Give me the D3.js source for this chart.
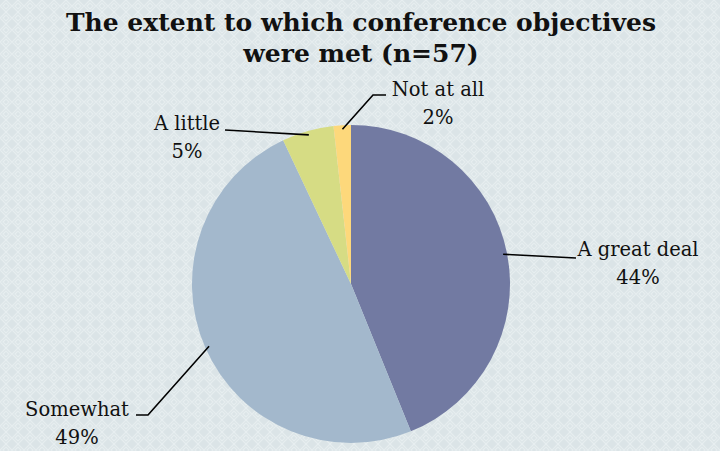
<!DOCTYPE html>
<html>
<head>
<meta charset="utf-8">
<script src="https://cdnjs.cloudflare.com/ajax/libs/d3/7.8.5/d3.min.js"></script>
<style>
  body { margin: 0; }
  svg { display: block; }
  text { font-family: "DejaVu Serif", "Liberation Serif", serif; fill: #111; }
</style>
</head>
<body>
<div id="chart"></div>
<script>
var categories = ["A great deal", "Somewhat", "A little", "Not at all"];
var counts = [25, 28, 3, 1];
var pctLabels = ["44%", "49%", "5%", "2%"];
var colors = ["#727aa2", "#a3b8cc", "#d6dc84", "#fdd87b"];

// label placement (text centre, elbow of leader line)
var labelPos = [
	{x: 638, y: 256, lx: 576, ly: 258, ex: 576},
	{x: 77, y: 416, lx: 136, ly: 415, ex: 148},
	{x: 187, y: 130, lx: 225, ly: 130, ex: 225},
	{x: 438, y: 96, lx: 386, ly: 95, ex: 373}
];

var width = 720, height = 451;
var cx = 351, cy = 284, radius = 159;

var svg = d3.select("#chart").append("svg")
	.attr("width", width)
	.attr("height", height);

// background with diamond pattern
var defs = svg.append("defs");
var pat = defs.append("pattern")
	.attr("id", "bg")
	.attr("width", 12)
	.attr("height", 12)
	.attr("patternUnits", "userSpaceOnUse");
pat.append("rect").attr("width", 12).attr("height", 12).attr("fill", "#dbe4e7");
pat.append("path")
	.attr("d", "M0,6 L6,0 L12,6 L6,12 Z M3,6 L6,3 L9,6 L6,9 Z")
	.attr("fill", "none")
	.attr("stroke", "#e7eef0")
	.attr("stroke-width", 1.2);

svg.append("rect")
	.attr("width", width)
	.attr("height", height)
	.attr("fill", "url(#bg)");

// title
var title = svg.append("text")
	.attr("text-anchor", "middle")
	.attr("font-weight", "bold")
	.attr("font-size", 25);
title.append("tspan").attr("x", 361).attr("y", 31).text("The extent to which conference objectives");
title.append("tspan").attr("x", 361).attr("y", 62).text("were met (n=57)");

var data = categories.map(function(c, i) {
	return {name: c, value: counts[i], pct: pctLabels[i], color: colors[i], pos: labelPos[i]};
});

var pie = d3.pie()
	.sort(null)
	.value(function(d) { return d.value; });

var arc = d3.arc()
	.innerRadius(0)
	.outerRadius(radius);

var outer = d3.arc()
	.innerRadius(radius - 4)
	.outerRadius(radius - 4);

var g = svg.append("g")
	.attr("transform", "translate(" + cx + "," + cy + ")");

var arcs = pie(data);

g.selectAll(".slice")
	.data(arcs)
	.enter().append("path")
		.attr("class", "slice")
		.attr("fill", function(d) { return d.data.color; })
		.attr("d", arc);

// leader lines
svg.selectAll(".leader")
	.data(arcs)
	.enter().append("polyline")
		.attr("class", "leader")
		.attr("fill", "none")
		.attr("stroke", "#000")
		.attr("stroke-width", 1.6)
		.attr("points", function(d) {
			var c = outer.centroid(d);
			var p = d.data.pos;
			return (cx + c[0]) + "," + (cy + c[1]) + " " + p.ex + "," + p.ly + " " + p.lx + "," + p.ly;
		});

var labels = svg.selectAll(".lbl")
	.data(arcs)
	.enter().append("text")
		.attr("class", "lbl")
		.attr("text-anchor", "middle")
		.attr("font-size", 19.5);

labels.append("tspan")
	.attr("x", function(d) { return d.data.pos.x; })
	.attr("y", function(d) { return d.data.pos.y; })
	.text(function(d) { return d.data.name; });
labels.append("tspan")
	.attr("x", function(d) { return d.data.pos.x; })
	.attr("y", function(d) { return d.data.pos.y + 28; })
	.text(function(d) { return d.data.pct; });
</script>
</body>
</html>
